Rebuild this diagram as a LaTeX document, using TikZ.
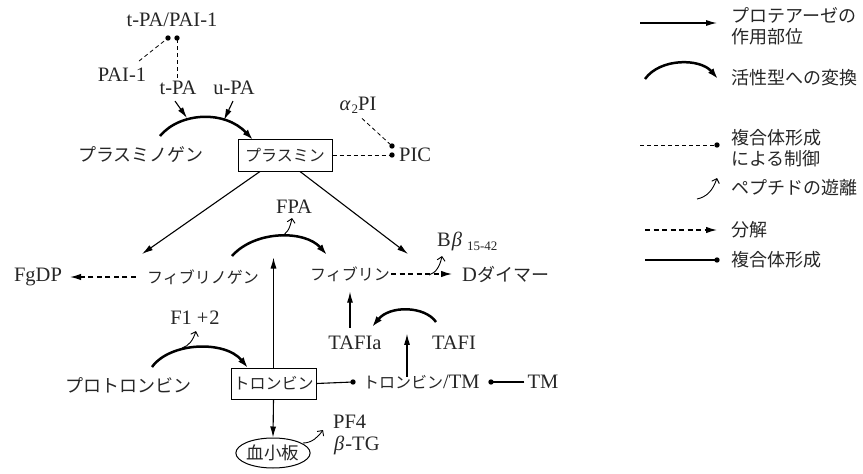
\documentclass[tikz,border=0pt]{standalone}
\usepackage{fontspec}
\setmainfont{Liberation Serif}
\newfontfamily\jp{Noto Sans CJK JP}
\usetikzlibrary{arrows.meta,calc,shapes.geometric}
\begin{document}
\begin{tikzpicture}[x=1pt,y=-1pt,
  every node/.style={inner sep=1pt, text=black!85},
  lat/.style={font=\fontsize{20.5}{20}\selectfont},
  jpl/.style={font=\fontsize{18}{21}\selectfont\jp},
  jps/.style={font=\fontsize{16}{18}\selectfont\jp},
  boxn/.style={draw=black, line width=1pt, inner sep=2pt},
  prot/.style={draw=black, line width=1.1pt, -{Latex[length=11pt,width=6pt]}},
  conv/.style={draw=black, line width=2.5pt, -{Latex[length=11pt,width=7pt]}},
  ctrl/.style={draw=black, line width=0.8pt, dash pattern=on 4pt off 3pt},
  decomp/.style={draw=black, line width=1.2pt, dash pattern=on 5pt off 3.5pt, -{Latex[length=11pt,width=6.5pt]}},
  pep/.style={draw=black, line width=0.9pt, -{Straight Barb[length=4pt,width=8pt]}},
  cplx/.style={draw=black, line width=1.1pt},
  dotc/.style={fill=black}
]
\useasboundingbox (0,0) rectangle (863,474);

% ---------- upper part: fibrinolysis ----------
\node[lat] (tpapai) at (172,20) {t-PA/PAI-1};
\coordinate (d1) at (168,38);
\coordinate (d2) at (177,38);
\node[lat] (pai) at (122,75) {PAI-1};
\node[lat] (tpa) at (178,88) {t-PA};
\node[lat] (upa) at (234,88) {u-PA};
\draw[ctrl] ($(pai.north)+(17,-6)$) -- (d1);
\draw[ctrl] ($(tpa.north)+(-1,-2)$) -- (d2);
\fill[dotc] (d1) circle (2.7);
\fill[dotc] (d2) circle (2.7);

\node[jpl] (plg) at (141,155) {プラスミノゲン};
\node[boxn,jps,minimum width=94pt,minimum height=32pt] (plm) at (285,155) {プラスミン};
\coordinate (c1s) at (160,136);
\coordinate (c1e) at (253,140);
\draw[conv] (c1s) .. controls (180,112) and (225,110) .. (c1e);
\draw[prot] ($(tpa.south)+(-3,5)$) -- (187,118);
\draw[prot] ($(upa.south)+(-1,5)$) -- (224,120);

\node[lat,anchor=west] (pic) at (398,155) {PIC};
\coordinate (pd1) at (392,155);
\coordinate (pd2) at (392,146);
\node[lat] (a2pi) at (358,105) {\textit{α}\hspace{1pt}\raisebox{-3pt}{\fontsize{13}{13}\selectfont 2}PI};
\draw[ctrl] (plm.east) -- (pd1);
\draw[ctrl] ($(a2pi.south)+(4,4)$) -- (pd2);
\fill[dotc] (pd1) circle (2.7);
\fill[dotc] (pd2) circle (2.7);

% ---------- middle: fibrinogen / fibrin ----------
\node[jps] (fgn) at (203,277) {フィブリノゲン};
\node[lat] (fgdp) at (38,277) {FgDP};
\node[jps] (fib) at (350,274) {フィブリン};
\node[anchor=west] (ddim) at (461,274) {{\fontsize{20.5}{20}\selectfont D}{\fontsize{18}{20}\selectfont\jp ダイマー}};
\node[lat,anchor=west] (bb) at (436,241) {B\hspace{1pt}\textit{β}\hspace{5pt}\raisebox{-4pt}{\fontsize{13}{13}\selectfont 15-42}};
\node[lat] (fpa) at (294,207) {FPA};

\coordinate (fgT) at (142,254);
\coordinate (fbT) at (408,254);
\draw[prot] ($(plm.south)+(-25,0)$) -- (fgT);
\draw[prot] ($(plm.south)+(15,0)$) -- (fbT);

\draw[decomp] ($(fgn.west)+(-10,0)$) -- ($(fgdp.east)+(7,0)$);
\draw[decomp] (fib.east) -- ($(ddim.west)+(-9,0)$);
\draw[pep] (429,275) .. controls (436,273) and (440,266) .. (442,256);

\coordinate (c2s) at (232,256);
\coordinate (c2e) at (327,255);
\draw[conv] (c2s) .. controls (255,230) and (305,230) .. (c2e);
\draw[pep] (280,236) .. controls (287,235) and (290,228) .. (292,218);

% ---------- TAFI ----------
\node[lat] (tafia) at (355,343) {TAFIa};
\node[lat] (tafi) at (454,343) {TAFI};
\draw[prot] ($(tafia.north)+(-5,-7)$) -- ($(fib.south)+(0,9)$);
\coordinate (c3s) at (436,322);
\coordinate (c3e) at (372,327);
\draw[conv] (c3s) .. controls (425,306) and (390,305) .. (c3e);

% ---------- thrombin ----------
\node[boxn,jps,minimum width=85pt,minimum height=31pt] (thr) at (273.5,383.5) {トロンビン};
\node[jpl] (pth) at (128,385) {プロトロンビン};
\node[anchor=west] (thrtm) at (362,382) {{\fontsize{16}{18}\selectfont\jp トロンビン}{\fontsize{20.5}{20}\selectfont /TM}};
\node[lat] (tm) at (543,382) {TM};
\node[lat] (f12) at (195,318) {F1\hspace{5pt}+\hspace{1pt}2};

\draw[prot] (thr.north) -- ($(thr.north)+(0,-110)$);
\coordinate (c4s) at (152,367);
\coordinate (c4e) at (248,368);
\draw[conv] (c4s) .. controls (170,342) and (225,340) .. (c4e);
\draw[pep] (182,348) .. controls (189,346) and (193,340) .. (196,331);

\coordinate (td1) at (353,382);
\coordinate (td2) at (491,382);
\draw[cplx] (thr.east) -- (td1);
\draw[cplx] ($(tm.west)+(-2,0)$) -- (td2);
\fill[dotc] (td1) circle (2.7);
\fill[dotc] (td2) circle (2.7);
\draw[prot] ($(thrtm.north west)+(45,3)$) -- ($(thrtm.north west)+(45,-40)$);

\node[draw=black,line width=1pt,ellipse,inner sep=0pt,minimum width=68pt,minimum height=30pt,font=\fontsize{17.5}{18}\selectfont\jp] (plt) at (273,453) {血小板};
\draw[prot] (thr.south) -- (plt.north);
\draw[pep] (303,443) .. controls (312,443) and (318,437) .. (323,430);
\node[lat,anchor=west] (pf4) at (332,422) {PF4};
\node[lat,anchor=west] (btg) at (333,445) {\textit{β}\hspace{1pt}-TG};

% ---------- legend ----------
\coordinate (l1a) at (640,23);
\coordinate (l1b) at (717,23);
\draw[prot] (l1a) -- (l1b);
\node[jpl,anchor=west,align=left] (lt1) at (730,26) {プロテアーゼの\\作用部位};

\coordinate (l2a) at (645,79);
\coordinate (l2b) at (718,79);
\draw[conv] (l2a) .. controls (660,58) and (700,58) .. (l2b);
\node[jpl,anchor=west] (lt2) at (730,78) {活性型への変換};

\coordinate (l3a) at (640,145);
\coordinate (l3b) at (717,145);
\draw[ctrl] (l3a) -- (l3b);
\fill[dotc] (l3b) circle (2.7);
\node[jpl,anchor=west,align=left] (lt3) at (730,148) {複合体形成\\による制御};

\coordinate (l4a) at (697,199);
\coordinate (l4b) at (717,178);
\draw[pep] (l4a) .. controls (707,197) and (713,190) .. (l4b);
\node[jpl,anchor=west] (lt4) at (730,188) {ペプチドの遊離};

\coordinate (l5a) at (645,230);
\coordinate (l5b) at (717,230);
\draw[decomp] (l5a) -- (l5b);
\node[jpl,anchor=west] (lt5) at (730,230) {分解};

\coordinate (l6a) at (645,260);
\coordinate (l6b) at (717,260);
\draw[cplx] (l6a) -- (l6b);
\fill[dotc] (l6b) circle (2.7);
\node[jpl,anchor=west] (lt6) at (730,260) {複合体形成};
\end{tikzpicture}
\end{document}
